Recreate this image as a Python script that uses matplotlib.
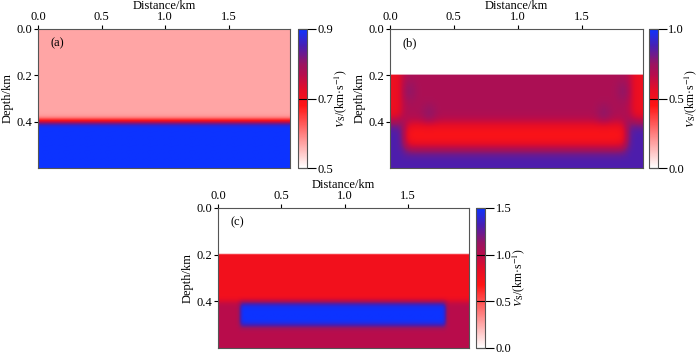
import numpy as np
import matplotlib
matplotlib.use("Agg")
import matplotlib.pyplot as plt
from matplotlib.colors import LinearSegmentedColormap

plt.rcParams['font.family'] = ['Liberation Serif', 'DejaVu Serif']
plt.rcParams['mathtext.fontset'] = 'stix'
plt.rcParams['font.size'] = 9

# model extent (km)
x_max = 1.98
depth_max = 0.6
layer_tops = [0.0, 0.2, 0.4]

# layer velocities (km/s) per panel
vs_a = [0.57, 0.57, 0.90]
vs_b = [0.0, 0.70, 0.87]
vs_c = [0.0, 0.75, 1.00]

# panel b details
edge_b_vs = 0.52          # redder sides of layer 2
edge_b_width = 0.09
box_b = [0.11, 1.85, 0.405, 0.515]   # x0, x1, z0, z1
box_b_vs = 0.46
blobs_b_x = [0.15, 0.30, 1.68, 1.83]
blobs_b_z = [0.27, 0.37, 0.37, 0.27]
blob_b_vs = 0.80

# panel c anomaly
box_c = [0.17, 1.79, 0.41, 0.51]
box_c_vs = 1.5

cbar_ranges = [(0.5, 0.9), (0.0, 1.0), (0.0, 1.5)]
cbar_ticks = [[0.5, 0.7, 0.9], [0.0, 0.5, 1.0], [0.0, 0.5, 1.0, 1.5]]
labels = ['(a)', '(b)', '(c)']

nx, nz = 240, 90
x = np.linspace(0, x_max, nx)
z = np.linspace(0, depth_max, nz)
X, Z = np.meshgrid(x, z)


def layered(vals):
    m = np.full(X.shape, vals[0], dtype=float)
    for top, v in zip(layer_tops[1:], vals[1:]):
        m[Z >= top] = v
    return m


def blur(m, sig):
    k = np.arange(-3 * sig, 3 * sig + 1)
    w = np.exp(-0.5 * (k / sig) ** 2)
    w /= w.sum()
    p = len(k) // 2
    mp = np.pad(m, ((0, 0), (p, p)), mode='edge')
    m = np.array([np.convolve(r, w, mode='valid') for r in mp])
    mp = np.pad(m, ((p, p), (0, 0)), mode='edge')
    m = np.array([np.convolve(c, w, mode='valid') for c in mp.T]).T
    return m


# (a)
mod_a = blur(layered(vs_a), 2)

# (b) top layer kept sharp: fill it with layer-2 values before smoothing
top = Z < layer_tops[1]
lay2 = (Z < layer_tops[2])
side = (X < edge_b_width) | (X > x_max - edge_b_width)
mod_b = layered(vs_b)
mod_b[top] = vs_b[1]
mod_b[lay2 & side] = edge_b_vs
for bx, bz in zip(blobs_b_x, blobs_b_z):
    mod_b[(np.abs(X - bx) < 0.04) & (np.abs(Z - bz) < 0.03)] = blob_b_vs
mod_b[(X > box_b[0]) & (X < box_b[1]) & (Z > box_b[2]) & (Z < box_b[3])] = box_b_vs
mod_b = blur(mod_b, 4)
mod_b[top] = vs_b[0]

# (c)
mod_c = layered(vs_c)
mod_c[top] = vs_c[1]
mod_c[(X > box_c[0]) & (X < box_c[1]) & (Z > box_c[2]) & (Z < box_c[3])] = box_c_vs
mod_c = blur(mod_c, 2)
mod_c[top] = vs_c[0]

cmap = LinearSegmentedColormap.from_list('wrb', [
    (0.0, (1, 1, 1)),
    (0.45, (1, 0.08, 0.08)),
    (0.56, (0.9, 0.05, 0.15)),
    (0.67, (0.72, 0.05, 0.3)),
    (0.75, (0.6, 0.08, 0.38)),
    (0.88, (0.28, 0.12, 0.7)),
    (1.0, (0.05, 0.2, 1.0)),
])

fig = plt.figure(figsize=(7, 3.54), dpi=100)
ax_pos = [[0.0543, 0.5254, 0.36, 0.3927],
          [0.557, 0.5254, 0.3614, 0.3927],
          [0.3114, 0.017, 0.3586, 0.3955]]
cb_pos = [[0.4257, 0.5254, 0.0129, 0.3927],
          [0.927, 0.5254, 0.0129, 0.3927],
          [0.68, 0.017, 0.0129, 0.3955]]

for mod, ap, cp, (vmin, vmax), ticks, lab in zip(
        [mod_a, mod_b, mod_c], ax_pos, cb_pos, cbar_ranges, cbar_ticks, labels):
    ax = fig.add_axes(ap)
    im = ax.imshow(mod, extent=[0, x_max, depth_max, 0], aspect='auto',
                   cmap=cmap, vmin=vmin, vmax=vmax, interpolation='bilinear')
    ax.xaxis.tick_top()
    ax.xaxis.set_label_position('top')
    ax.set_xticks([0.0, 0.5, 1.0, 1.5])
    ax.set_yticks([0.0, 0.2, 0.4])
    ax.set_xticklabels(['0.0', '0.5', '1.0', '1.5'])
    ax.set_yticklabels(['0.0', '0.2', '0.4'])
    ax.set_xlabel('Distance/km', labelpad=2)
    ax.set_ylabel('Depth/km', labelpad=2)
    ax.tick_params(length=3, pad=1)
    for s in ax.spines.values():
        s.set_color('#555555')
    ax.text(0.05, 0.9, lab, transform=ax.transAxes, ha='left', va='center')

    cax = fig.add_axes(cp)
    cb = fig.colorbar(im, cax=cax, ticks=ticks)
    cb.ax.set_yticklabels([f'{t:.1f}' for t in ticks])
    cb.ax.tick_params(direction='inout', length=13, width=0.8, pad=1)
    cb.outline.set_edgecolor('#555555')
    cb.set_label(r'$V_{\rm S}$/(km·s$^{-1}$)', labelpad=-1, fontsize=8.5)

fig.savefig('out.png', dpi=100)
